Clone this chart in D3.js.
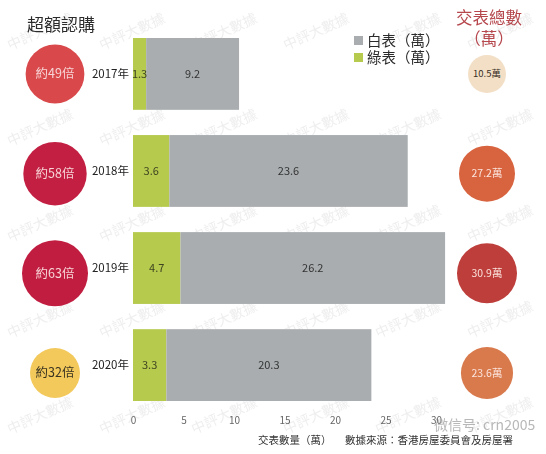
<!DOCTYPE html>
<html>
<head>
<meta charset="utf-8">
<script src="https://cdn.jsdelivr.net/npm/d3@7"></script>
<style>
  html, body { margin: 0; padding: 0; background: #fff; }
  svg { display: block; font-family: "Noto Sans CJK TC", "Noto Sans", sans-serif; }
</style>
</head>
<body>
<script>
const W = 546
const H = 454

const years = ['2017年', '2018年', '2019年', '2020年']
const greenForms = [1.3, 3.6, 4.7, 3.3]
const whiteForms = [9.2, 23.6, 26.2, 20.3]
const totals = [10.5, 27.2, 30.9, 23.6]
const oversub = [49, 58, 63, 32]
const xTicks = [0, 5, 10, 15, 20, 25, 30]

const leftColors = ['#d9484a', '#c21f42', '#c11d40', '#f3c95c']
const rightColors = ['#f2dfc6', '#d8643f', '#be3e3b', '#d97a4d']

const GREEN = '#b6ca4e'
const GRAY = '#a9adaf'

const svg = d3.select('body').append('svg')
  .attr('width', W)
  .attr('height', H)

svg.append('rect').attr('width', W).attr('height', H).attr('fill', '#fff')

// watermarks sit under everything else
const wm = svg.append('g').attr('fill', '#cfcfcf').attr('opacity', 0.35)
  .attr('font-size', 14)
for (let r = 0; r < 5; r++) {
  for (let c = 0; c < 6; c++) {
    wm.append('text')
      .attr('transform', `translate(${42 + c * 92}, ${36 + r * 96}) rotate(-24)`)
      .attr('text-anchor', 'middle')
      .text('中評大數據')
  }
}

// scales
const x = d3.scaleLinear().domain([0, 30]).range([133, 436])
const y = d3.scaleBand().domain(years).range([38, 401]).paddingInner(0.26).paddingOuter(0)
const yc = d3.scalePoint().domain(years).range([74, 373])
const rLeft = d3.scaleLinear().domain([32, 63]).range([25, 33])
const rRight = d3.scaleLinear().domain([10.5, 30.9]).range([19, 30])

const rows = years.map((yr, i) => ({
  yr, g: greenForms[i], w: whiteForms[i], total: totals[i], times: oversub[i], i
}))

// bars
const bars = svg.append('g')
bars.selectAll('.g').data(rows).join('rect')
  .attr('x', x(0))
  .attr('y', d => y(d.yr))
  .attr('width', d => x(d.g) - x(0))
  .attr('height', y.bandwidth())
  .attr('fill', GREEN)
bars.selectAll('.w').data(rows).join('rect')
  .attr('x', d => x(d.g))
  .attr('y', d => y(d.yr))
  .attr('width', d => x(d.g + d.w) - x(d.g))
  .attr('height', y.bandwidth())
  .attr('fill', GRAY)

// value labels
svg.append('g').selectAll('text').data(rows).join('text')
  .attr('x', d => (x(0) + x(d.g)) / 2)
  .attr('y', d => y(d.yr) + y.bandwidth() / 2)
  .attr('dy', '0.35em')
  .attr('text-anchor', 'middle')
  .attr('font-size', 11)
  .attr('fill', '#3d4320')
  .text(d => d.g)
svg.append('g').selectAll('text').data(rows).join('text')
  .attr('x', d => (x(d.g) + x(d.g + d.w)) / 2)
  .attr('y', d => y(d.yr) + y.bandwidth() / 2)
  .attr('dy', '0.35em')
  .attr('text-anchor', 'middle')
  .attr('font-size', 11)
  .attr('fill', '#333')
  .text(d => d.w)

// year labels
svg.append('g').selectAll('text').data(rows).join('text')
  .attr('x', 129)
  .attr('y', d => y(d.yr) + y.bandwidth() / 2)
  .attr('dy', '0.35em')
  .attr('text-anchor', 'end')
  .attr('font-size', 11.5)
  .attr('fill', '#222')
  .text(d => d.yr)

// x axis: labels only
const axis = svg.append('g')
  .attr('transform', `translate(0, 414)`)
  .call(d3.axisBottom(x).tickValues(xTicks).tickSize(0).tickPadding(3))
axis.select('.domain').remove()
axis.selectAll('text')
  .attr('font-size', 10)
  .attr('fill', '#666')
  .attr('font-family', '"Noto Sans CJK TC", sans-serif')

// left circles: oversubscription
const left = svg.append('g').selectAll('g').data(rows).join('g')
  .attr('transform', d => `translate(55, ${yc(d.yr)})`)
left.append('circle')
  .attr('r', d => rLeft(d.times))
  .attr('fill', (d, i) => leftColors[i])
left.append('text')
  .attr('text-anchor', 'middle')
  .attr('dy', '0.35em')
  .attr('font-size', 12.5)
  .attr('fill', (d, i) => i === 3 ? '#3a3320' : '#f7d4d6')
  .text(d => `約${d.times}倍`)

// right circles: total forms
const right = svg.append('g').selectAll('g').data(rows).join('g')
  .attr('transform', d => `translate(487, ${yc(d.yr)})`)
right.append('circle')
  .attr('r', d => rRight(d.total))
  .attr('fill', (d, i) => rightColors[i])
right.append('text')
  .attr('text-anchor', 'middle')
  .attr('dy', '0.35em')
  .attr('font-size', d => d.i === 0 ? 9.5 : 10.5)
  .attr('fill', (d, i) => i === 0 ? '#3a3025' : '#fbe3dc')
  .text(d => `${d.total}萬`)

// titles
svg.append('text')
  .attr('x', 27).attr('y', 31)
  .attr('font-size', 17)
  .attr('fill', '#2b2b2b')
  .text('超額認購')

svg.append('text')
  .attr('x', 489).attr('y', 24)
  .attr('text-anchor', 'middle')
  .attr('font-size', 16.5)
  .attr('fill', '#b5474d')
  .text('交表總數')
svg.append('text')
  .attr('x', 489).attr('y', 45)
  .attr('text-anchor', 'middle')
  .attr('font-size', 16.5)
  .attr('fill', '#b5474d')
  .text('（萬）')

// legend
const legend = svg.append('g').attr('transform', 'translate(354, 34)')
const legendItems = [{ label: '白表（萬）', color: GRAY }, { label: '綠表（萬）', color: GREEN }]
const li = legend.selectAll('g').data(legendItems).join('g')
  .attr('transform', (d, i) => `translate(0, ${i * 17})`)
li.append('rect').attr('width', 9).attr('height', 9).attr('y', 2).attr('fill', d => d.color)
li.append('text')
  .attr('x', 13).attr('y', 7)
  .attr('dy', '0.35em')
  .attr('font-size', 14.5)
  .attr('fill', '#2b2b2b')
  .text(d => d.label)

// footer
svg.append('text')
  .attr('x', 258).attr('y', 444)
  .attr('font-size', 10.5)
  .attr('fill', '#333')
  .text('交表數量（萬）')
svg.append('text')
  .attr('x', 345).attr('y', 444)
  .attr('font-size', 10.5)
  .attr('fill', '#333')
  .text('數據來源：香港房屋委員會及房屋署')

svg.append('text')
  .attr('x', 434).attr('y', 430)
  .attr('font-size', 14)
  .attr('fill', '#a0a0a0')
  .attr('opacity', 0.75)
  .text('微信号: crn2005')
</script>
</body>
</html>
